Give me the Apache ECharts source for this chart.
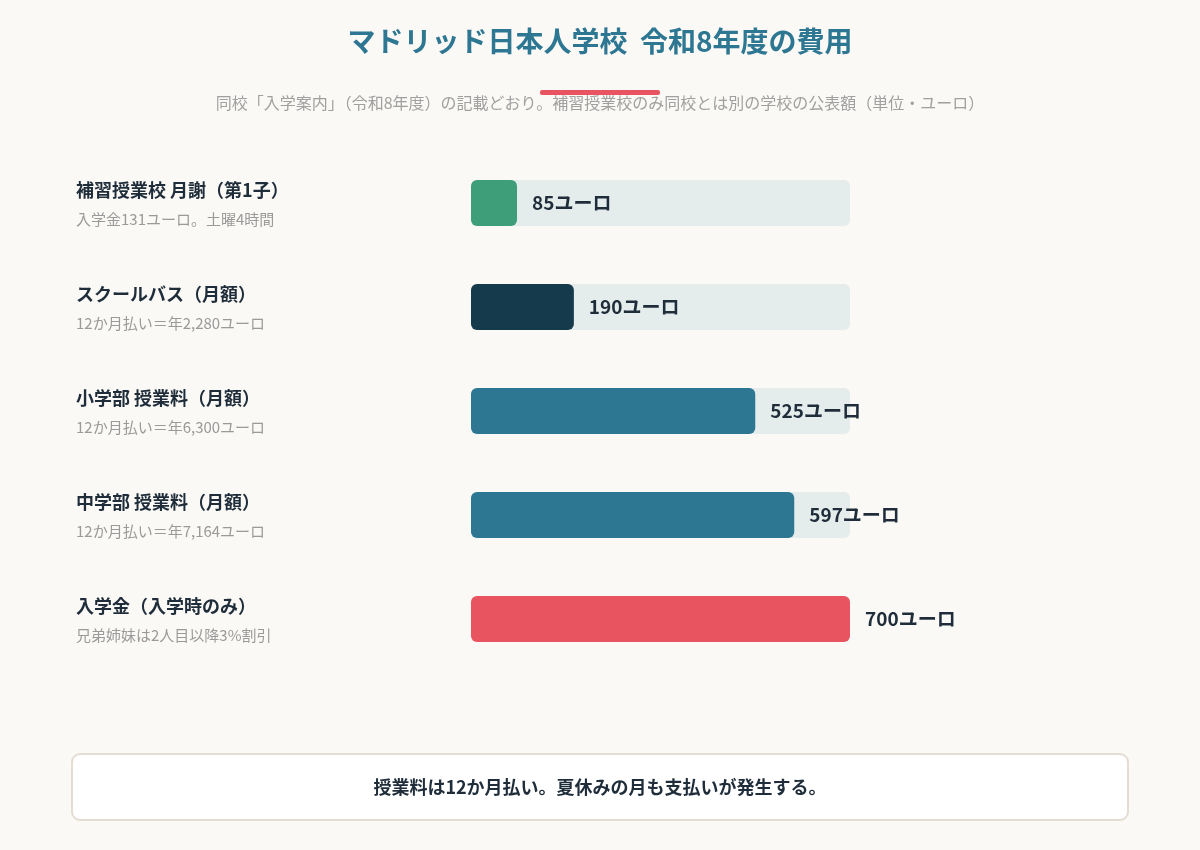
<!DOCTYPE html>
<html><head><meta charset="utf-8">
<script src="https://cdn.jsdelivr.net/npm/echarts@6/dist/echarts.min.js"></script>
<style>html,body{margin:0;background:#fbf9f6}#c{width:1200px;height:850px}</style>
</head><body><div id="c"></div>
<script>
const categories=['補習授業校 月謝（第1子）','スクールバス（月額）','小学部 授業料（月額）','中学部 授業料（月額）','入学金（入学時のみ）'];
const notes=['入学金131ユーロ。土曜4時間','12か月払い＝年2,280ユーロ','12か月払い＝年6,300ユーロ','12か月払い＝年7,164ユーロ','兄弟姉妹は2人目以降3%割引'];
const values=[85,190,525,597,700];
const colors=['#3f9e7a','#143a4c','#2e7793','#2e7793','#e85560'];
const font='"Noto Sans CJK JP","Noto Sans",sans-serif';
const chart=echarts.init(document.getElementById('c'));
chart.setOption({
backgroundColor:'#fbf9f6',
textStyle:{fontFamily:font},
title:{text:'マドリッド日本人学校  令和8年度の費用',left:'center',top:22,textStyle:{fontSize:28,fontWeight:'bold',color:'#2e7793',fontFamily:font},
subtext:'同校「入学案内」（令和8年度）の記載どおり。補習授業校のみ同校とは別の学校の公表額（単位・ユーロ）',itemGap:40,subtextStyle:{fontSize:16,color:'#a0a0a0',fontFamily:font}},
grid:{left:471,right:350,top:151,height:520},
xAxis:{type:'value',min:0,max:700,show:false},
yAxis:{type:'category',inverse:true,data:categories,axisLine:{show:false},axisTick:{show:false},
axisLabel:{align:'left',margin:395,formatter:(v,i)=>'{n|'+v+'}\n{s|'+notes[i]+'}',
rich:{n:{fontSize:18,fontWeight:'bold',color:'#1f2d3a',lineHeight:32,fontFamily:font},s:{fontSize:15,color:'#9a9a9a',lineHeight:26,fontFamily:font}}}},
series:[{type:'bar',barWidth:46,data:values.map((v,i)=>({value:v,itemStyle:{color:colors[i]}})),
itemStyle:{borderRadius:6},showBackground:true,backgroundStyle:{color:'#e5ecec',borderRadius:6},
label:{show:true,position:'right',distance:15,formatter:'{c}ユーロ',fontSize:19,fontWeight:'bold',color:'#1f2d3a',fontFamily:font}}],
graphic:[
{type:'rect',shape:{x:540,y:90,width:120,height:5,r:2},style:{fill:'#e85560'}},
{type:'rect',shape:{x:72,y:754,width:1056,height:66,r:8},style:{fill:'#ffffff',stroke:'#e3ddd3',lineWidth:2}},
{type:'text',x:600,y:787,style:{text:'授業料は12か月払い。夏休みの月も支払いが発生する。',fontSize:18,fontWeight:'bold',fill:'#1f2d3a',align:'center',verticalAlign:'middle',fontFamily:font}}
]});
</script></body></html>
